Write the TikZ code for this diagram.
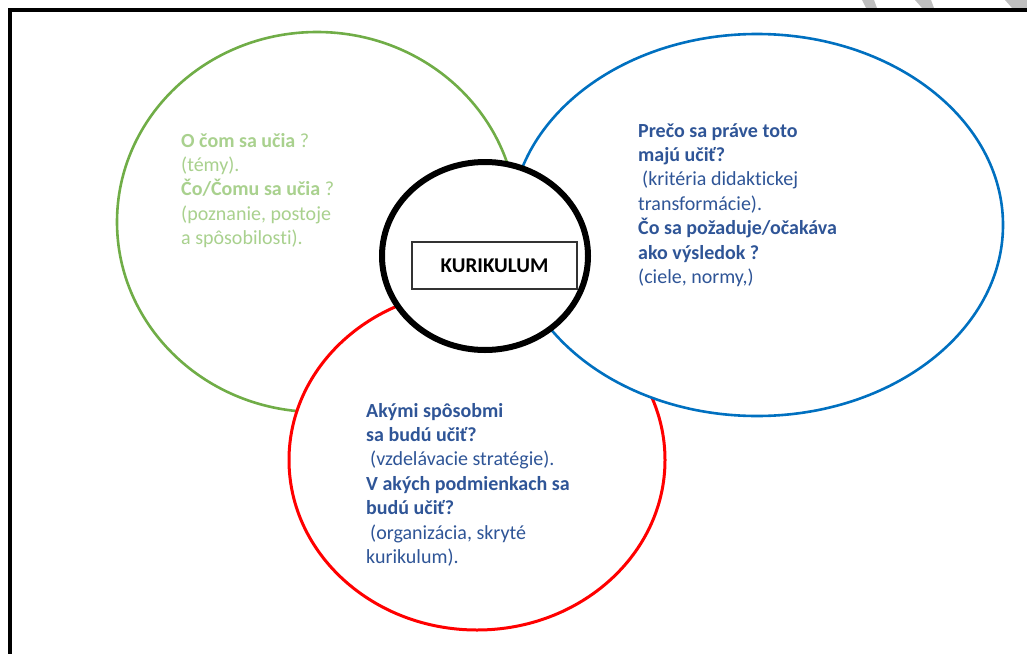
\documentclass[tikz,border=0pt]{standalone}
\usepackage{fontspec}
\setmainfont{Carlito}[Ligatures=NoCommon]
\usetikzlibrary{shapes.geometric}
\definecolor{zelena}{HTML}{70AD47}
\definecolor{svzelena}{HTML}{A9D18E}
\definecolor{modra}{HTML}{0070C0}
\definecolor{tmodra}{HTML}{2F5597}
\definecolor{cervena}{HTML}{FF0000}
\tikzset{
  kruh/.style={ellipse, draw=#1, fill=white, line width=2.6pt, inner sep=0pt},
  popis/.style={anchor=base west, align=left, inner sep=0pt, font=\fontsize{20}{24.4}\selectfont},
}
\begin{document}
\begin{tikzpicture}[x=1pt,y=-1pt]
\useasboundingbox (0,0) rectangle (1027,653);
% sive znacky hore
\fill[gray!50] (862,0)--(874,0)--(877,8)--(866,8)--cycle;
\fill[gray!50] (915,0)--(931,0)--(934,8)--(922,8)--cycle;
\fill[gray!50] (1005,0)--(1027,0)--(1027,8)--(1012,8)--cycle;
% ram
\draw[line width=4pt] (10,670)--(10,10)--(1040,10);
% kruhy
\node[kruh=zelena, minimum width=400pt, minimum height=380pt] (co) at (317,222) {};
\node[kruh=cervena, line width=3pt, minimum width=376pt, minimum height=340pt] (ako) at (477,460) {};
\node[kruh=modra, minimum width=492pt, minimum height=382pt] (preco) at (757,225) {};
\node[kruh=black, line width=6pt, minimum width=206pt, minimum height=188pt] (kurikulum) at (485,256) {};
\node[draw, line width=1.3pt, draw=black!80, fill=white, minimum width=165pt, minimum height=47pt,
  font=\fontsize{21}{24}\selectfont\bfseries] (nazov) at (494.5,265.5) {KURIKULUM};
% texty (base = posledny riadok)
\node[popis, svzelena] (coText) at (181,244.6) {\textbf{O čom sa učia} ?\\(témy).\\\textbf{Čo/Čomu sa učia} ?\\(poznanie, postoje\\a spôsobilosti).};
\node[popis, tmodra] (precoText) at (638,283.4) {\textbf{Prečo sa práve toto}\\\textbf{majú učiť?}\\\hspace{4pt}(kritéria didaktickej\\transformácie).\\\textbf{Čo sa požaduje/očakáva}\\\textbf{ako výsledok ?}\\(ciele, normy,)};
\node[popis, tmodra] (akoText) at (366,563.4) {\textbf{Akými spôsobmi}\\\textbf{sa budú učiť?}\\\hspace{4pt}(vzdelávacie stratégie).\\\textbf{V akých podmienkach sa}\\\textbf{budú učiť?}\\\hspace{4pt}(organizácia, skryté\\kurikulum).};
\end{tikzpicture}
\end{document}
